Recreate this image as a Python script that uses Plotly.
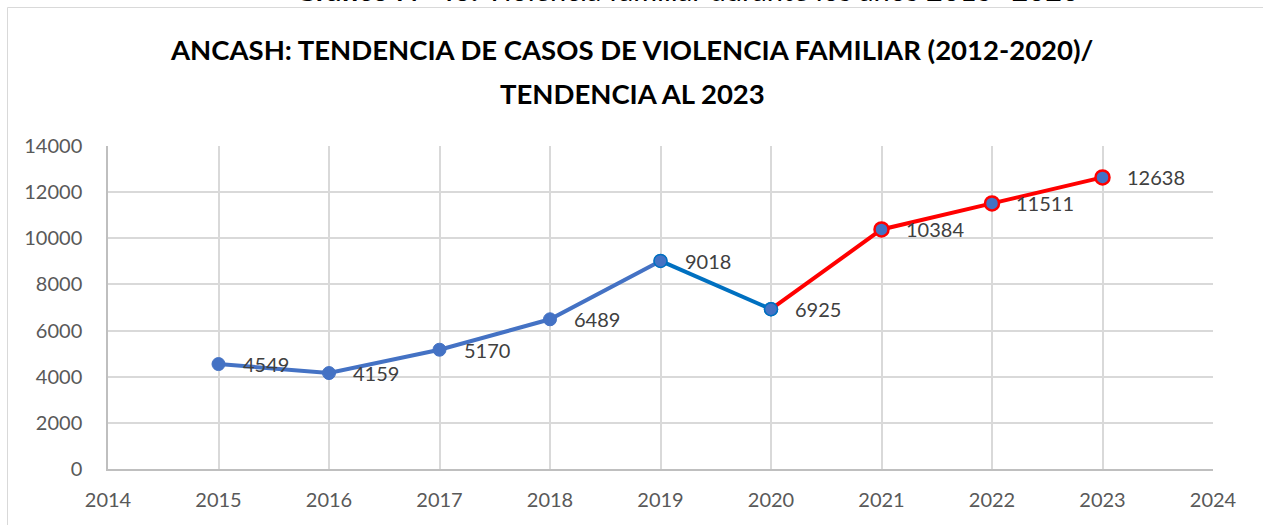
import plotly.graph_objects as go

# Casos de violencia familiar en Áncash
years = [2015, 2016, 2017, 2018, 2019, 2020, 2021, 2022, 2023]
cases = [4549, 4159, 5170, 6489, 9018, 6925, 10384, 11511, 12638]

x_ticks = list(range(2014, 2025))
y_ticks = list(range(0, 14001, 2000))

W, H = 1263, 525
L, R, T, B = 108, 50, 146, 56
PW, PH = W - L - R, H - T - B


def px_x(p):
    return (p - L) / PW


def px_y(p):
    return (H - B - p) / PH


FONT = "Lato"
TXT = "#404040"

fig = go.Figure()

# 2015-2019: serie observada
fig.add_trace(go.Scatter(
    x=years[:5], y=cases[:5], mode="lines+markers",
    line=dict(color="#4472C4", width=4),
    marker=dict(size=13, color="#4472C4", line=dict(color="#4472C4", width=1)),
    hoverinfo="x+y", showlegend=False,
))
# 2019-2020
fig.add_trace(go.Scatter(
    x=years[4:6], y=cases[4:6], mode="lines+markers",
    line=dict(color="#0070C0", width=4),
    marker=dict(size=13, color="#4472C4", line=dict(color="#0070C0", width=1.5)),
    hoverinfo="x+y", showlegend=False,
))
# 2020-2023: tendencia
fig.add_trace(go.Scatter(
    x=years[5:], y=cases[5:], mode="lines",
    line=dict(color="#FF0000", width=4),
    hoverinfo="x+y", showlegend=False,
))
fig.add_trace(go.Scatter(
    x=years[6:], y=cases[6:], mode="markers",
    marker=dict(size=14, color="#4472C4", line=dict(color="#FF0000", width=2.5)),
    hoverinfo="x+y", showlegend=False,
))
fig.add_trace(go.Scatter(
    x=years[5:6], y=cases[5:6], mode="markers",
    marker=dict(size=13, color="#4472C4", line=dict(color="#0070C0", width=1.5)),
    hoverinfo="x+y", showlegend=False,
))

annotations = []
for yr, v in zip(years, cases):
    annotations.append(dict(
        x=yr, y=v, xref="x", yref="y", text=str(v), showarrow=False,
        xanchor="left", yanchor="middle", xshift=22,
        font=dict(family=FONT, size=20, color=TXT),
    ))

# Título del gráfico
annotations.append(dict(
    x=px_x(632), y=px_y(50), xref="paper", yref="paper",
    text="ANCASH: TENDENCIA DE CASOS DE VIOLENCIA FAMILIAR (2012-2020)/",
    showarrow=False, xanchor="center", yanchor="middle",
    font=dict(family=FONT, size=27.5, color="#000000", weight="bold"),
))
annotations.append(dict(
    x=px_x(632), y=px_y(93), xref="paper", yref="paper",
    text="TENDENCIA AL 2023",
    showarrow=False, xanchor="center", yanchor="middle",
    font=dict(family=FONT, size=27.5, color="#000000", weight="bold"),
))
# Encabezado del documento sobre el marco
annotations.append(dict(
    x=px_x(687), y=px_y(9), xref="paper", yref="paper",
    text="<b>Gráfico N° 40:</b> Violencia familiar durante los años 2015- 2020",
    showarrow=False, xanchor="center", yanchor="bottom",
    font=dict(family=FONT, size=29, color="#000000"),
))

shapes = [dict(
    type="rect", xref="paper", yref="paper",
    x0=px_x(7.5), x1=px_x(1275), y0=px_y(540), y1=px_y(7.5),
    line=dict(color="#D9D9D9", width=1), fillcolor="rgba(0,0,0,0)", layer="below",
)]

fig.update_layout(
    width=W, height=H,
    margin=dict(l=L, r=R, t=T, b=B),
    paper_bgcolor="white", plot_bgcolor="white",
    annotations=annotations, shapes=shapes,
    font=dict(family=FONT, color="#595959"),
    xaxis=dict(
        range=[2014, 2024], tickvals=x_ticks, ticktext=[str(t) for t in x_ticks],
        showgrid=True, gridcolor="#D9D9D9", gridwidth=1.5,
        showline=True, linecolor="#BFBFBF", linewidth=1.5,
        zeroline=False, ticks="", ticklabelstandoff=12,
        tickfont=dict(family=FONT, size=20, color="#595959"),
        fixedrange=True,
    ),
    yaxis=dict(
        range=[0, 14000], tickvals=y_ticks, ticktext=[str(t) for t in y_ticks],
        showgrid=True, gridcolor="#D9D9D9", gridwidth=1.5,
        showline=True, linecolor="#BFBFBF", linewidth=1.5,
        zeroline=False, ticks="", ticklabelstandoff=20,
        tickfont=dict(family=FONT, size=20, color="#595959"),
        fixedrange=True,
    ),
)

fig.write_html("out.html")
